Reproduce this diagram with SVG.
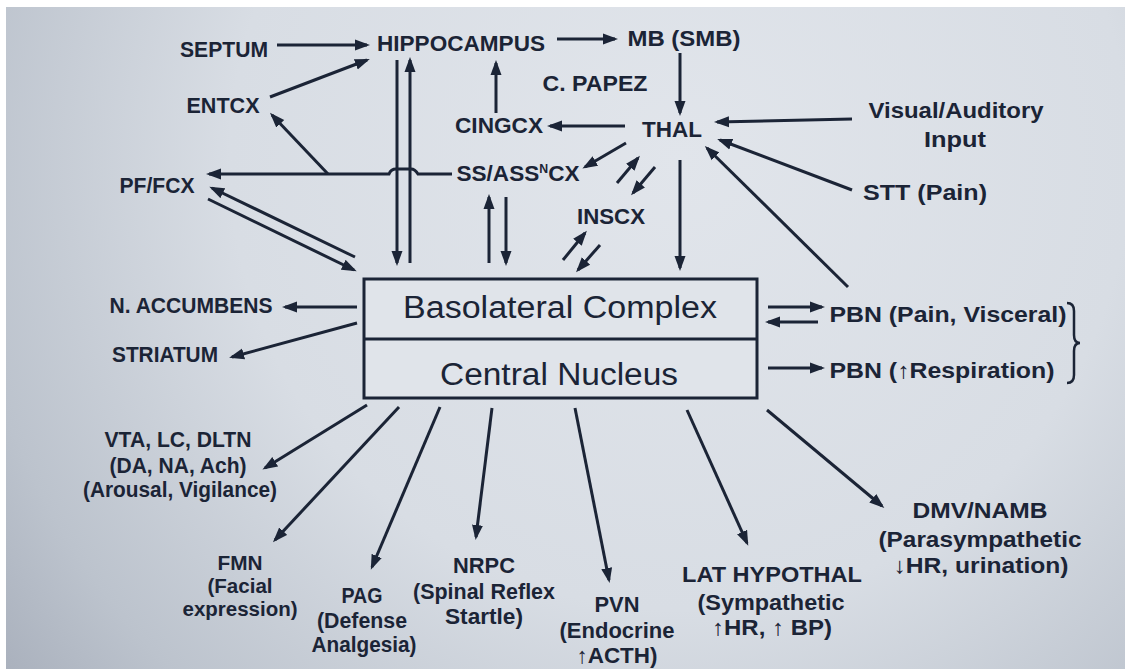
<svg xmlns="http://www.w3.org/2000/svg" width="1125" height="669" viewBox="0 0 1125 669">
<defs>
<radialGradient id="bg" gradientUnits="userSpaceOnUse" cx="680" cy="160" r="900">
<stop offset="0" stop-color="#e1e5eb"/>
<stop offset="0.5" stop-color="#d8dde4"/>
<stop offset="0.8" stop-color="#bcc3cd"/>
<stop offset="1" stop-color="#a2a9b6"/>
</radialGradient>
<marker id="ah" markerUnits="userSpaceOnUse" markerWidth="15" markerHeight="12" refX="12" refY="6" orient="auto">
<path d="M0,0.5 L15,6 L0,11.5 z" fill="#1b2436"/>
</marker>
<style>
.t{font-family:"Liberation Sans","DejaVu Sans",Arial,sans-serif;font-weight:bold;font-size:22px;fill:#1b2436;text-anchor:middle;}
.s{font-size:20px;}
.b{font-family:"Liberation Sans","DejaVu Sans",Arial,sans-serif;font-weight:normal;font-size:31px;fill:#1b2436;text-anchor:middle;}
.c line,.c path{stroke:#1b2436;stroke-width:3;fill:none;marker-end:url(#ah);}
.brace{stroke:#1b2436;stroke-width:2.5;fill:none;}
</style>
</defs>
<rect x="0" y="0" width="1125" height="669" fill="url(#bg)"/>
<rect x="0" y="0" width="1125" height="7" fill="#ffffff"/>
<rect x="0" y="0" width="6" height="669" fill="#ffffff"/>

<g id="amygdala">
<rect x="364" y="279" width="393" height="119" fill="#e0e4ea" stroke="#1b2436" stroke-width="3"/>
<line x1="364" y1="339" x2="757" y2="339" stroke="#1b2436" stroke-width="3"/>
<text class="b" x="560" y="318" textLength="314" lengthAdjust="spacingAndGlyphs">Basolateral Complex</text>
<text class="b" x="559" y="385" textLength="238" lengthAdjust="spacingAndGlyphs">Central Nucleus</text>
</g>

<g id="septum"><text class="t" x="224" y="57" textLength="88" lengthAdjust="spacingAndGlyphs">SEPTUM</text></g>
<g id="hippocampus"><text class="t" x="461" y="51" textLength="168" lengthAdjust="spacingAndGlyphs">HIPPOCAMPUS</text></g>
<g id="mb"><text class="t" x="684" y="46" textLength="113" lengthAdjust="spacingAndGlyphs">MB (SMB)</text></g>
<g id="papez"><text class="t" x="595" y="91" textLength="105" lengthAdjust="spacingAndGlyphs">C. PAPEZ</text></g>
<g id="entcx"><text class="t" x="223" y="113" textLength="73" lengthAdjust="spacingAndGlyphs">ENTCX</text></g>
<g id="cingcx"><text class="t" x="499" y="133" textLength="88" lengthAdjust="spacingAndGlyphs">CINGCX</text></g>
<g id="thal"><text class="t" x="672" y="137" textLength="60" lengthAdjust="spacingAndGlyphs">THAL</text></g>
<g id="visual">
<text class="t" x="956" y="118" textLength="175" lengthAdjust="spacingAndGlyphs">Visual/Auditory</text>
<text class="t" x="955" y="147" textLength="62" lengthAdjust="spacingAndGlyphs">Input</text>
</g>
<g id="stt"><text class="t" x="925" y="200" textLength="124" lengthAdjust="spacingAndGlyphs">STT (Pain)</text></g>
<g id="sscx"><text class="t" x="518" y="181" textLength="123" lengthAdjust="spacingAndGlyphs">SS/ASS<tspan font-size="12" dy="-8">N</tspan><tspan dy="8">CX</tspan></text></g>
<g id="pffcx"><text class="t" x="157" y="193" textLength="75" lengthAdjust="spacingAndGlyphs">PF/FCX</text></g>
<g id="inscx"><text class="t" x="611" y="224" textLength="68" lengthAdjust="spacingAndGlyphs">INSCX</text></g>
<g id="naccumbens"><text class="t" x="191" y="313" textLength="163" lengthAdjust="spacingAndGlyphs">N. ACCUMBENS</text></g>
<g id="striatum"><text class="t" x="165" y="362" textLength="106" lengthAdjust="spacingAndGlyphs">STRIATUM</text></g>
<g id="pbn1"><text class="t" x="948" y="322" textLength="237" lengthAdjust="spacingAndGlyphs">PBN (Pain, Visceral)</text></g>
<g id="pbn2"><text class="t" x="942" y="378" textLength="225" lengthAdjust="spacingAndGlyphs">PBN (↑Respiration)</text></g>
<g id="pbn-brace"><path class="brace" d="M1067,303 Q1074,303 1074,311 L1074,335 Q1074,343 1080,343 Q1074,343 1074,351 L1074,375 Q1074,383 1067,383"/></g>
<g id="vta">
<text class="t" x="178" y="447" textLength="147" lengthAdjust="spacingAndGlyphs">VTA, LC, DLTN</text>
<text class="t" x="178" y="473" textLength="137" lengthAdjust="spacingAndGlyphs">(DA, NA, Ach)</text>
<text class="t" x="180" y="497" textLength="194" lengthAdjust="spacingAndGlyphs">(Arousal, Vigilance)</text>
</g>
<g id="fmn">
<text class="t s" x="240" y="570" textLength="45" lengthAdjust="spacingAndGlyphs">FMN</text>
<text class="t s" x="240" y="593" textLength="65" lengthAdjust="spacingAndGlyphs">(Facial</text>
<text class="t s" x="240" y="616" textLength="115" lengthAdjust="spacingAndGlyphs">expression)</text>
</g>
<g id="pag">
<text class="t" x="362" y="603" textLength="41" lengthAdjust="spacingAndGlyphs">PAG</text>
<text class="t" x="362" y="628" textLength="90" lengthAdjust="spacingAndGlyphs">(Defense</text>
<text class="t" x="364" y="652" textLength="105" lengthAdjust="spacingAndGlyphs">Analgesia)</text>
</g>
<g id="nrpc">
<text class="t" x="484" y="573" textLength="62" lengthAdjust="spacingAndGlyphs">NRPC</text>
<text class="t" x="484" y="599" textLength="142" lengthAdjust="spacingAndGlyphs">(Spinal Reflex</text>
<text class="t" x="484" y="624" textLength="78" lengthAdjust="spacingAndGlyphs">Startle)</text>
</g>
<g id="pvn">
<text class="t" x="617" y="612" textLength="45" lengthAdjust="spacingAndGlyphs">PVN</text>
<text class="t" x="617" y="638" textLength="115" lengthAdjust="spacingAndGlyphs">(Endocrine</text>
<text class="t" x="617" y="663" textLength="81" lengthAdjust="spacingAndGlyphs">↑ACTH)</text>
</g>
<g id="lathypothal">
<text class="t" x="772" y="582" textLength="180" lengthAdjust="spacingAndGlyphs">LAT HYPOTHAL</text>
<text class="t" x="771" y="610" textLength="147" lengthAdjust="spacingAndGlyphs">(Sympathetic</text>
<text class="t" x="772" y="635" textLength="120" lengthAdjust="spacingAndGlyphs">↑HR, ↑ BP)</text>
</g>
<g id="dmv">
<text class="t" x="980" y="518" textLength="135" lengthAdjust="spacingAndGlyphs">DMV/NAMB</text>
<text class="t" x="980" y="547" textLength="203" lengthAdjust="spacingAndGlyphs">(Parasympathetic</text>
<text class="t" x="981" y="573" textLength="175" lengthAdjust="spacingAndGlyphs">↓HR, urination)</text>
</g>

<g id="connectors" class="c">
<line x1="277" y1="45" x2="367" y2="45"/>
<line x1="270" y1="97" x2="367" y2="60"/>
<line x1="557" y1="39" x2="615" y2="39"/>
<line x1="680" y1="53" x2="680" y2="113"/>
<line x1="496" y1="113" x2="496" y2="63"/>
<line x1="625" y1="126" x2="550" y2="126"/>
<line x1="852" y1="119" x2="717" y2="122"/>
<line x1="852" y1="190" x2="720" y2="140"/>
<line x1="848" y1="287" x2="707" y2="148"/>
<line x1="626" y1="143" x2="585" y2="167"/>
<line x1="617" y1="183" x2="638" y2="158"/>
<line x1="655" y1="167" x2="633" y2="193"/>
<line x1="563" y1="260" x2="585" y2="233"/>
<line x1="600" y1="245" x2="578" y2="270"/>
<line x1="680" y1="160" x2="680" y2="268"/>
<line x1="489" y1="263" x2="489" y2="197"/>
<line x1="506" y1="197" x2="506" y2="263"/>
<line x1="397" y1="60" x2="397" y2="263"/>
<line x1="410" y1="263" x2="410" y2="60"/>
<path d="M452,174 L418,174 Q415,169 411,169 L396,169 Q391,169 389,174 L209,174"/>
<line x1="328" y1="174" x2="272" y2="115"/>
<line x1="355" y1="257" x2="212" y2="188"/>
<line x1="208" y1="199" x2="354" y2="270"/>
<line x1="357" y1="307" x2="285" y2="307"/>
<line x1="357" y1="323" x2="232" y2="357"/>
<line x1="768" y1="307" x2="822" y2="307"/>
<line x1="818" y1="322" x2="768" y2="322"/>
<line x1="768" y1="368" x2="822" y2="368"/>
<line x1="367" y1="405" x2="265" y2="468"/>
<line x1="399" y1="407" x2="275" y2="540"/>
<line x1="440" y1="407" x2="372" y2="567"/>
<line x1="492" y1="408" x2="476" y2="537"/>
<line x1="575" y1="408" x2="609" y2="580"/>
<line x1="687" y1="410" x2="747" y2="543"/>
<line x1="767" y1="410" x2="882" y2="506"/>
</g>
</svg>
